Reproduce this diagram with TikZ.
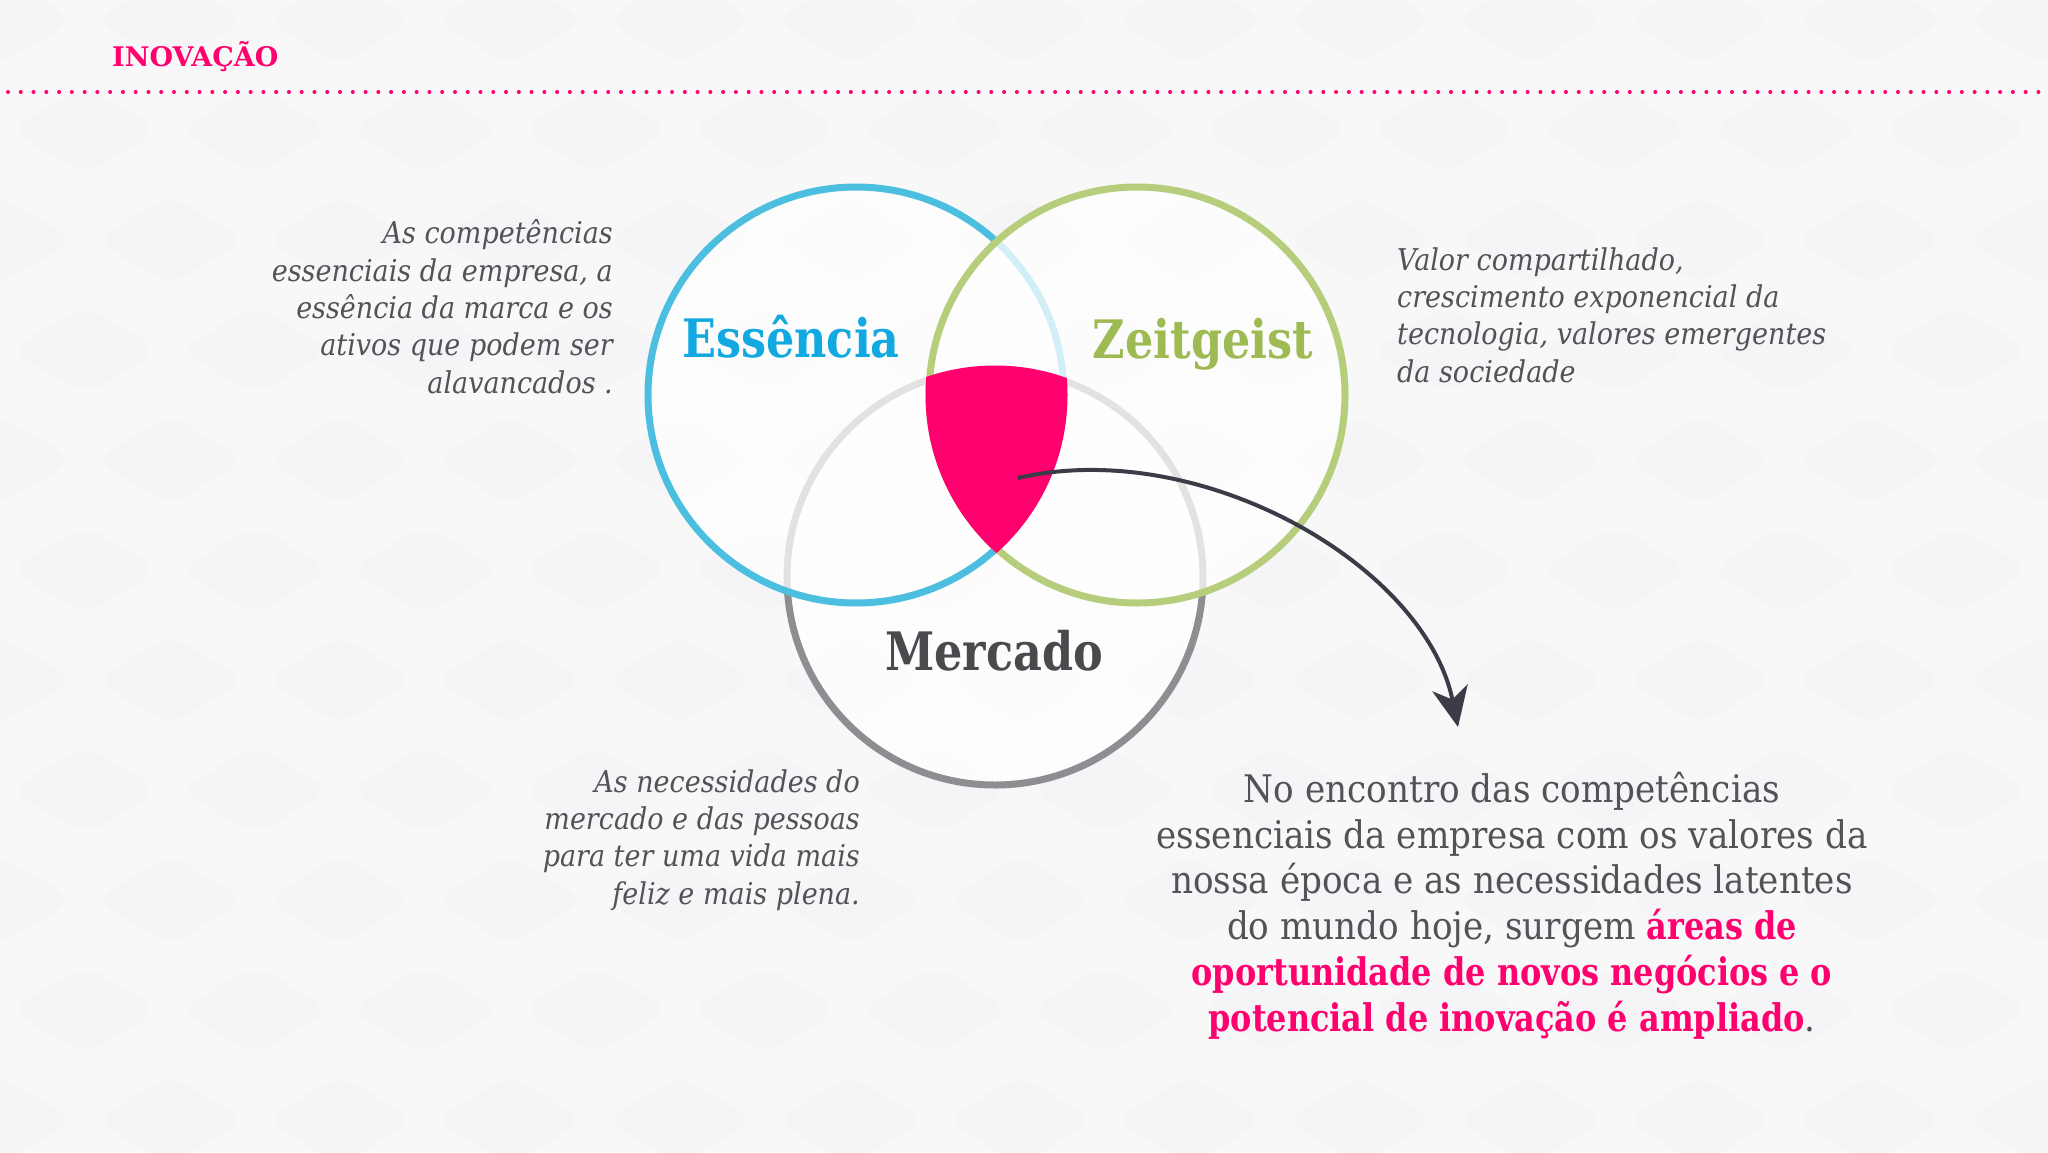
\documentclass[tikz,border=0pt]{standalone}
\usepackage{fontspec}
\setmainfont{DejaVu Serif}[FakeStretch=0.9, BoldFeatures={FakeStretch=0.84}]
\newfontfamily\headfont{DejaVu Serif}[FakeStretch=1.0, BoldFeatures={FakeStretch=1.0}]
\usetikzlibrary{arrows.meta}
\definecolor{brandpink}{HTML}{FF006E}
\definecolor{ringblue}{HTML}{4CBFE0}
\definecolor{ringgreen}{HTML}{B6CE7C}
\definecolor{ringgray}{HTML}{8E8D91}
\definecolor{labelblue}{HTML}{12A9E0}
\definecolor{labelgreen}{HTML}{9DBB52}
\definecolor{labelgray}{HTML}{4A494E}
\definecolor{bodygray}{HTML}{525257}
\definecolor{arrowgray}{HTML}{3B3C47}
\definecolor{bggray}{HTML}{F8F8F9}
\definecolor{tilegray}{HTML}{F5F5F7}
\begin{document}
\begin{tikzpicture}[x=1pt,y=-1pt,
  ring/.style={line width=7pt, fill=white, fill opacity=0.75},
  ringlabel/.style={anchor=base, inner sep=0pt, font=\fontsize{53}{60}\selectfont\bfseries},
  note/.style={inner sep=0pt, text=bodygray, font=\fontsize{30}{37.3}\selectfont\itshape},
  summary/.style={inner sep=0pt, text=bodygray, align=center, font=\fontsize{38}{45.7}\selectfont},
  arrowline/.style={draw=arrowgray, line width=4pt, -{Stealth[length=40pt, width=36pt, inset=12pt]}}]
\fill[bggray] (0,0) rectangle (2048,1152);
\useasboundingbox (0,0) rectangle (2048,1152);
% faint background tiling
\foreach \j in {0,...,10} {
  \foreach \i in {0,...,12} {
    \pgfmathsetmacro{\cx}{170*\i + mod(\j,2)*85}
    \pgfmathsetmacro{\cy}{110*\j + 20}
    \fill[tilegray, rounded corners=20pt] (\cx-75,\cy) -- (\cx,\cy-45) -- (\cx+75,\cy) -- (\cx,\cy+45) -- cycle;
  }
}
% header
\node[anchor=base west, inner sep=0pt, text=brandpink, font=\headfont\fontsize{27}{30}\selectfont\bfseries] (title) at (112,66) {INOVAÇÃO};
\foreach \i in {0,...,160} \fill[brandpink] (8+12.77*\i, 92) circle[radius=2pt];
% circles
\coordinate (E) at (856,395);
\coordinate (Z) at (1137,395);
\coordinate (M) at (995,577);
\draw[ring, draw=ringgray] (M) circle[radius=208pt];
\draw[ring, draw=ringblue] (E) circle[radius=208pt];
\draw[ring, draw=ringgreen] (Z) circle[radius=208pt];
\begin{scope}
  \clip (E) circle[radius=211.5pt];
  \clip (Z) circle[radius=211.5pt];
  \fill[brandpink] (M) circle[radius=211.5pt];
\end{scope}
% labels
\node[ringlabel, text=labelblue] (essencia) at (791,357) {Essência};
\node[ringlabel, text=labelgreen] (zeitgeist) at (1203,358) {Zeitgeist};
\node[ringlabel, text=labelgray] (mercado) at (994,670) {Mercado};
% notes (base anchor = baseline of last line)
\node[note, align=right, anchor=base east] (noteE) at (613,393) {As competências\\essenciais da empresa, a\\essência da marca e os\\ativos que podem ser\\alavancados .};
\node[note, align=left, anchor=base west] (noteZ) at (1397,382) {Valor compartilhado,\\crescimento exponencial da\\tecnologia, valores emergentes\\da sociedade};
\node[note, align=right, anchor=base east] (noteM) at (860,904) {As necessidades do\\mercado e das pessoas\\para ter uma vida mais\\feliz e mais plena.};
\node[summary, anchor=base] (summarytext) at (1512,1031) {No encontro das competências\\essenciais da empresa com os valores da\\nossa época e as necessidades latentes\\do mundo hoje, surgem {\bfseries\color{brandpink}áreas de}\\{\bfseries\color{brandpink}oportunidade de novos negócios e o}\\{\bfseries\color{brandpink}potencial de inovação é ampliado}.};
% arrow
\coordinate (arrowstart) at (1018,478);
\coordinate (arrowtip) at (1458,727);
\draw[arrowline] (arrowstart) .. controls (1200,436) and (1425,565) .. (arrowtip);
\end{tikzpicture}
\end{document}
